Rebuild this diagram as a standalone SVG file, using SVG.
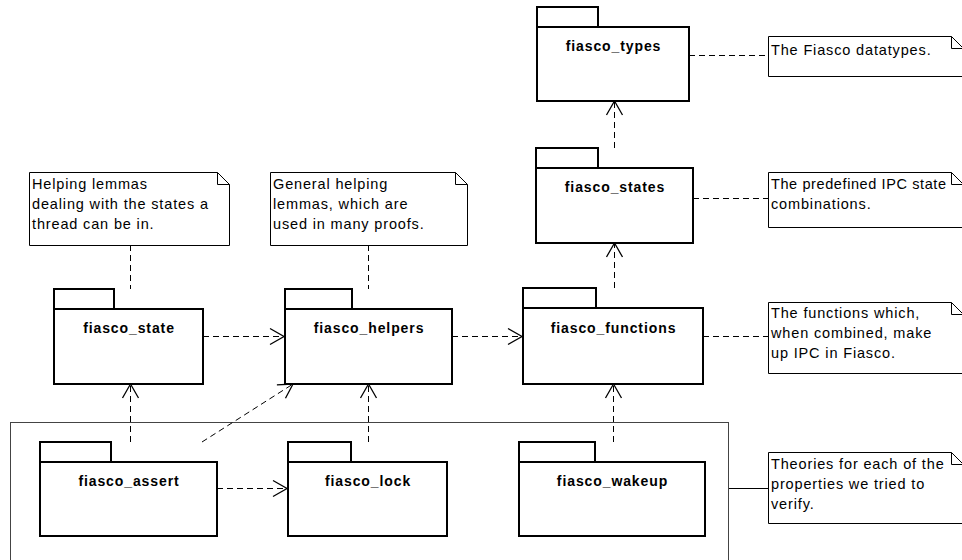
<svg xmlns="http://www.w3.org/2000/svg" width="962" height="560" viewBox="0 0 962 560">
<style>
  .pkg rect { fill: #fff; stroke: #000; stroke-width: 2; }
  .lbl { font-family: "Liberation Sans", Arial, sans-serif; font-size: 14px; font-weight: bold; letter-spacing: 0.9px; text-anchor: middle; fill: #000; }
  .note path { fill: #fff; stroke: #000; stroke-width: 1; }
  .note text { font-family: "Liberation Sans", Arial, sans-serif; font-size: 14.5px; letter-spacing: 0.85px; fill: #000; }
  .note text.tight { letter-spacing: 0.6px; }
  .dep { fill: none; stroke: #000; stroke-width: 1; stroke-dasharray: 6 4; }
  .anchor { fill: none; stroke: #000; stroke-width: 1; stroke-dasharray: 6 4; }
  .solid { fill: none; stroke: #000; stroke-width: 1; }
  .frame { fill: none; stroke: #444; stroke-width: 1; }
</style>
<defs>
  <marker id="open" markerUnits="userSpaceOnUse" markerWidth="20" markerHeight="20" refX="0" refY="0" viewBox="-16 -10 18 20" orient="auto">
    <path d="M-14,-8 L0,0 L-14,8" fill="none" stroke="#000" stroke-width="1.3"/>
  </marker>
</defs>
<rect width="962" height="560" fill="#fff"/>

<g id="frame">
  <rect class="frame" x="10.5" y="422.5" width="718" height="160"/>
</g>

<g id="connectors">
  <line class="anchor" x1="689" y1="55.5" x2="768" y2="55.5"/>
  <line class="anchor" x1="693" y1="198.5" x2="768" y2="198.5"/>
  <line class="anchor" x1="703" y1="336.5" x2="768" y2="336.5"/>
  <line class="anchor" x1="130.5" y1="245" x2="130.5" y2="289"/>
  <line class="anchor" x1="368.5" y1="245" x2="368.5" y2="289"/>
  <line class="solid" x1="729" y1="488.5" x2="768" y2="488.5"/>
  <line class="dep" x1="614.5" y1="148" x2="614.5" y2="101" marker-end="url(#open)"/>
  <line class="dep" x1="614.5" y1="288" x2="614.5" y2="243" marker-end="url(#open)"/>
  <line class="dep" x1="203" y1="336.5" x2="284" y2="336.5" marker-end="url(#open)"/>
  <line class="dep" x1="452" y1="336.5" x2="522" y2="336.5" marker-end="url(#open)"/>
  <line class="dep" x1="130.5" y1="442" x2="130.5" y2="384" marker-end="url(#open)"/>
  <line class="dep" x1="202" y1="442" x2="293" y2="384" marker-end="url(#open)"/>
  <line class="dep" x1="368.5" y1="442" x2="368.5" y2="384" marker-end="url(#open)"/>
  <line class="dep" x1="613.5" y1="442" x2="613.5" y2="384" marker-end="url(#open)"/>
  <line class="dep" x1="217" y1="488.5" x2="287" y2="488.5" marker-end="url(#open)"/>
</g>

<g id="fiasco_types" class="pkg">
  <rect x="537" y="7" width="61" height="20"/>
  <rect x="537" y="27" width="152" height="74"/>
  <text class="lbl" x="613.5" y="51">fiasco_types</text>
</g>
<g id="fiasco_states" class="pkg">
  <rect x="536" y="148" width="62" height="20"/>
  <rect x="536" y="168" width="157" height="75"/>
  <text class="lbl" x="615" y="192">fiasco_states</text>
</g>
<g id="fiasco_state" class="pkg">
  <rect x="54" y="289" width="60" height="20"/>
  <rect x="54" y="309" width="149" height="75"/>
  <text class="lbl" x="129" y="333">fiasco_state</text>
</g>
<g id="fiasco_helpers" class="pkg">
  <rect x="285" y="289" width="67" height="20"/>
  <rect x="285" y="309" width="167" height="75"/>
  <text class="lbl" x="369" y="333">fiasco_helpers</text>
</g>
<g id="fiasco_functions" class="pkg">
  <rect x="523" y="288" width="73" height="20"/>
  <rect x="523" y="308" width="180" height="76"/>
  <text class="lbl" x="613.5" y="333">fiasco_functions</text>
</g>
<g id="fiasco_assert" class="pkg">
  <rect x="40" y="442" width="71" height="20"/>
  <rect x="40" y="462" width="177" height="74"/>
  <text class="lbl" x="129" y="486">fiasco_assert</text>
</g>
<g id="fiasco_lock" class="pkg">
  <rect x="288" y="442" width="63" height="20"/>
  <rect x="288" y="462" width="159" height="74"/>
  <text class="lbl" x="368" y="486">fiasco_lock</text>
</g>
<g id="fiasco_wakeup" class="pkg">
  <rect x="519" y="442" width="76" height="20"/>
  <rect x="519" y="462" width="186" height="74"/>
  <text class="lbl" x="612.5" y="486">fiasco_wakeup</text>
</g>

<g id="note_state" class="note">
  <path d="M29.5,172.5 H217.5 L229.5,184.5 V245.5 H29.5 Z M217.5,172.5 V184.5 H229.5"/>
  <text x="32" y="189">Helping lemmas</text>
  <text x="32" y="209">dealing with the states a</text>
  <text x="32" y="229">thread can be in.</text>
</g>
<g id="note_helpers" class="note">
  <path d="M270.5,172.5 H455.5 L467.5,184.5 V245.5 H270.5 Z M455.5,172.5 V184.5 H467.5"/>
  <text x="273" y="189">General helping</text>
  <text x="273" y="209">lemmas, which are</text>
  <text x="273" y="229">used in many proofs.</text>
</g>
<g id="note_types" class="note">
  <path d="M768.5,36.5 H951.5 L963.5,48.5 V76.5 H768.5 Z M951.5,36.5 V48.5 H963.5"/>
  <text x="771" y="55">The Fiasco datatypes.</text>
</g>
<g id="note_states" class="note">
  <path d="M768.5,172.5 H951.5 L963.5,184.5 V227.5 H768.5 Z M951.5,172.5 V184.5 H963.5"/>
  <text class="tight" x="771" y="189">The predefined IPC state</text>
  <text x="771" y="209">combinations.</text>
</g>
<g id="note_functions" class="note">
  <path d="M768.5,302.5 H951.5 L963.5,314.5 V373.5 H768.5 Z M951.5,302.5 V314.5 H963.5"/>
  <text x="771" y="318">The functions which,</text>
  <text x="771" y="338">when combined, make</text>
  <text x="771" y="358">up IPC in Fiasco.</text>
</g>
<g id="note_theories" class="note">
  <path d="M768.5,452.5 H951.5 L963.5,464.5 V523.5 H768.5 Z M951.5,452.5 V464.5 H963.5"/>
  <text x="771" y="469">Theories for each of the</text>
  <text x="771" y="489">properties we tried to</text>
  <text x="771" y="509">verify.</text>
</g>
</svg>
